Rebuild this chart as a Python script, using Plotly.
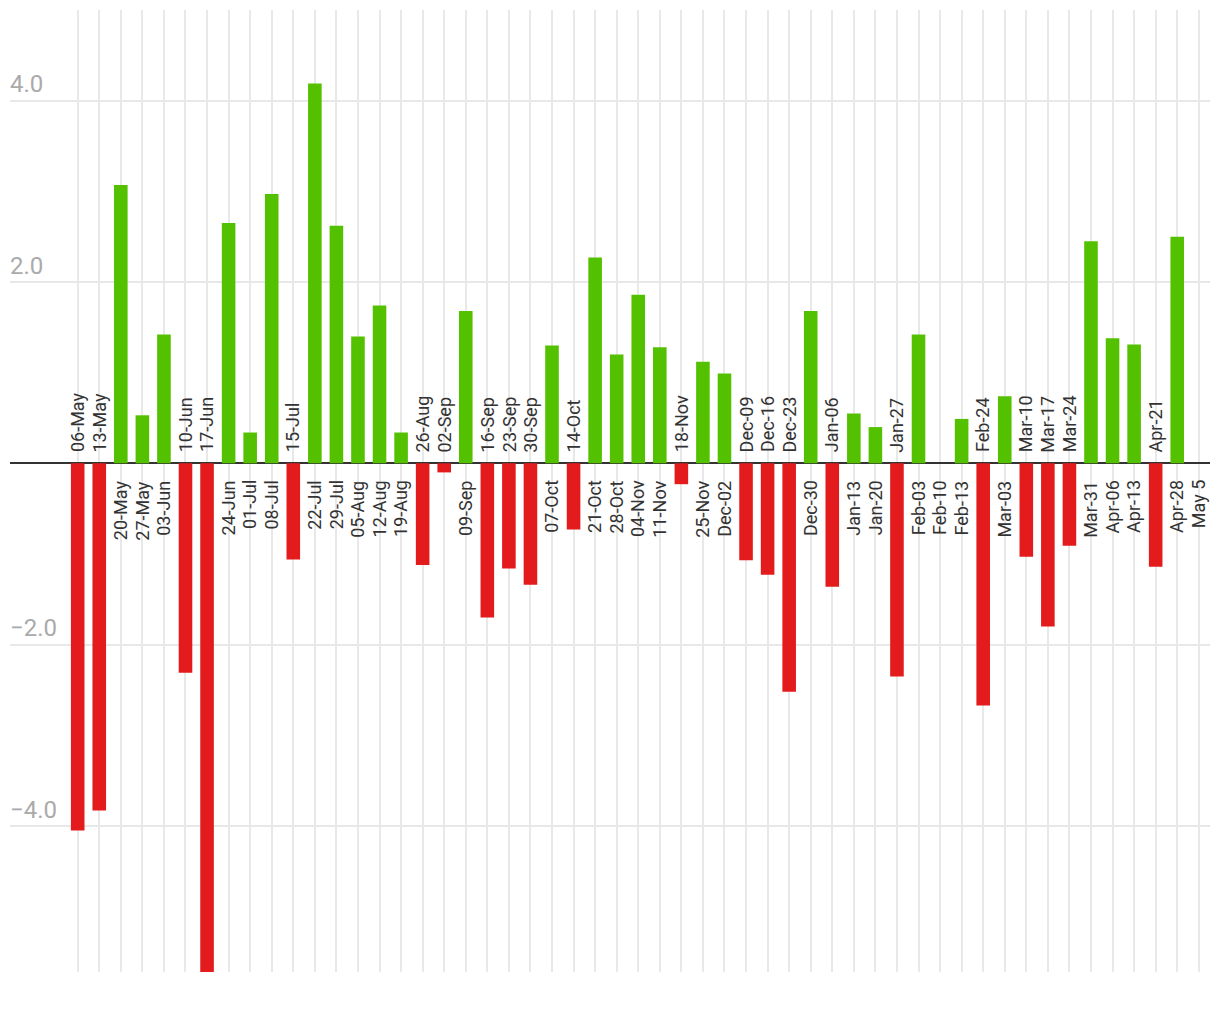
import plotly.graph_objects as go

dates = ["06-May", "13-May", "20-May", "27-May", "03-Jun", "10-Jun", "17-Jun", "24-Jun",
         "01-Jul", "08-Jul", "15-Jul", "22-Jul", "29-Jul", "05-Aug", "12-Aug", "19-Aug",
         "26-Aug", "02-Sep", "09-Sep", "16-Sep", "23-Sep", "30-Sep", "07-Oct", "14-Oct",
         "21-Oct", "28-Oct", "04-Nov", "11-Nov", "18-Nov", "25-Nov", "Dec-02", "Dec-09",
         "Dec-16", "Dec-23", "Dec-30", "Jan-06", "Jan-13", "Jan-20", "Jan-27", "Feb-03",
         "Feb-10", "Feb-13", "Feb-24", "Mar-03", "Mar-10", "Mar-17", "Mar-24", "Mar-31",
         "Apr-06", "Apr-13", "Apr-21", "Apr-28", "May 5"]

values = [-4.05, -3.83, 3.07, 0.53, 1.42, -2.31, -5.70, 2.65,
          0.34, 2.97, -1.06, 4.19, 2.62, 1.40, 1.74, 0.34,
          -1.12, -0.10, 1.68, -1.70, -1.16, -1.34, 1.30, -0.73,
          2.27, 1.20, 1.86, 1.28, -0.23, 1.12, 0.99, -1.07,
          -1.23, -2.52, 1.68, -1.36, 0.55, 0.40, -2.35, 1.42,
          0.0, 0.49, -2.67, 0.74, -1.03, -1.80, -0.91, 2.45,
          1.38, 1.31, -1.14, 2.50, 0.0]

y_ticks = [-4, -2, 2, 4]

GREEN = "#53C100"
RED = "#E31B1D"
colors = [GREEN if v >= 0 else RED for v in values]

fig = go.Figure()
fig.add_trace(go.Bar(x=dates, y=values, marker=dict(color=colors, line=dict(width=0)),
                     width=0.63, hoverinfo="x+y"))

annotations = []
for d, v in zip(dates, values):
    if v >= 0:
        annotations.append(dict(x=d, y=0, xref="x", yref="y", text=d, showarrow=False,
                                textangle=-90, xanchor="center", yanchor="top", yshift=-15,
                                font=dict(family="Roboto", size=18, color="#333333")))
    else:
        annotations.append(dict(x=d, y=0, xref="x", yref="y", text=d, showarrow=False,
                                textangle=-90, xanchor="center", yanchor="bottom", yshift=9,
                                font=dict(family="Roboto", size=18, color="#333333")))

fig.update_layout(
    width=1220, height=1020,
    margin=dict(l=10, r=10, t=10, b=48),
    paper_bgcolor="white", plot_bgcolor="white",
    showlegend=False,
    bargap=0.37,
    annotations=annotations,
    font=dict(family="Roboto"),
)
fig.update_xaxes(type="category", range=[-3.14, 52.52], showticklabels=False, ticks="",
                 showgrid=True, gridcolor="#E8E8E8", gridwidth=2, showline=False, zeroline=False)
fig.update_yaxes(range=[-5.61, 5.0], tickvals=y_ticks, tickformat=".1f",
                 ticklabelposition="inside top", ticks="", ticklabelstandoff=-3,
                 tickfont=dict(family="Roboto", size=24, color="#AAAAAA"),
                 showgrid=True, gridcolor="#E8E8E8", gridwidth=2,
                 zeroline=True, zerolinecolor="#333333", zerolinewidth=2, showline=False)

fig.write_html("out.html")
